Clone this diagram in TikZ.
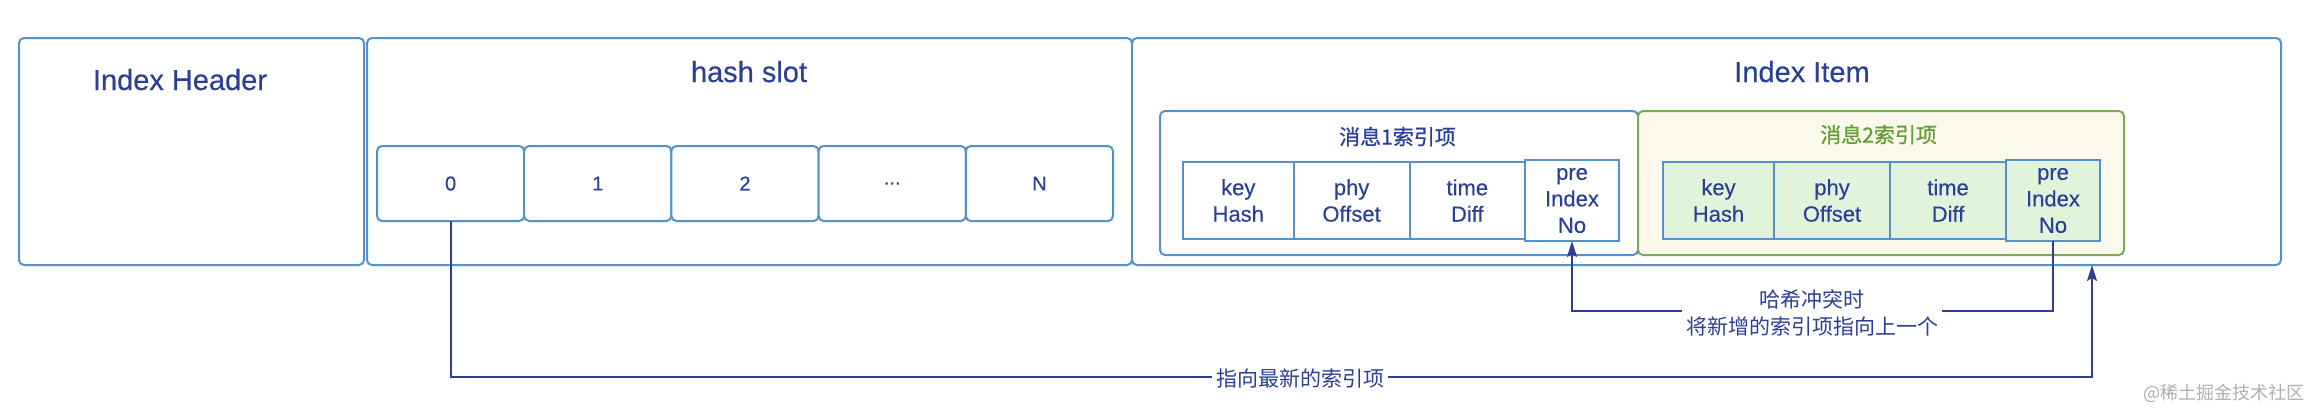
\documentclass[tikz,border=0pt]{standalone}
\usepackage{fontspec}
\setmainfont{Liberation Sans}[FakeBold=0.3]
\newfontfamily\cjk{Noto Sans CJK SC}
\newfontfamily\cjkmed{Noto Sans CJK SC}[FakeBold=0.8]
\usetikzlibrary{arrows.meta,calc}

\definecolor{boxblue}{RGB}{84,146,206}
\definecolor{txtblue}{RGB}{42,64,150}
\definecolor{linkblue}{RGB}{44,62,152}
\definecolor{grntxt}{RGB}{96,158,52}
\definecolor{grnline}{RGB}{122,172,88}
\definecolor{ylwfill}{RGB}{251,249,236}
\definecolor{grnfill}{RGB}{226,243,219}
\definecolor{wmgray}{RGB}{175,175,175}

\begin{document}
\begin{tikzpicture}[x=1pt,y=-1pt,
  box/.style={draw=boxblue, line width=2pt, rounded corners=5pt, inner sep=0pt, outer sep=0pt, fill=white},
  title/.style={text=txtblue, font=\fontsize{29}{34}\selectfont, anchor=base, inner sep=0pt},
  slotbox/.style={box, minimum width=147.2pt, minimum height=75pt, text=txtblue, font=\fontsize{20}{24}\selectfont},
  cellbox/.style={draw=boxblue, line width=2pt, inner sep=0pt, outer sep=0pt, align=center, text=txtblue, fill=white,
     font=\fontsize{22}{26.5}\selectfont, minimum height=77pt},
  precell/.style={cellbox, minimum width=94pt, minimum height=81pt},
  gcell/.style={fill=grnfill},
  cjklbl/.style={font=\cjk\fontsize{21}{27}\selectfont, inner sep=2pt, align=center},
  msglbl/.style={font=\cjkmed\fontsize{21}{27}\selectfont, inner sep=2pt},
  link/.style={draw=linkblue, line width=2pt, -{Stealth[length=16pt,width=10pt,inset=3pt]}},
  linklbl/.style={cjklbl, fill=white, text=txtblue, inner xsep=4pt, inner ysep=1pt},
]
\useasboundingbox (0,0) rectangle (2312,408);

% outer boxes
\node[box, minimum width=345pt, minimum height=227pt] (hdr) at (191.5,151.5) {};
\node[box, minimum width=765pt, minimum height=227pt] (slot) at (749.5,151.5) {};
\node[box, minimum width=1149pt, minimum height=227pt] (item) at (1706.5,151.5) {};

\node[title] (hdrT) at (180,90) {Index Header};
\node[title] (slotT) at (749,82) {hash slot};
\node[title] (itemT) at (1802,82) {Index Item};

% slots
\node[slotbox] (s0) at (450.6,183.5) {0};
\node[slotbox] (s1) at (597.8,183.5) {1};
\node[slotbox] (s2) at (745.0,183.5) {2};
\node[slotbox] (s3) at (892.2,183.5) {...};
\node[slotbox] (s4) at (1039.4,183.5) {N};

% message boxes
\node[box, minimum width=478pt, minimum height=144pt] (m1) at (1399,183) {};
\node[box, draw=grnline, fill=ylwfill, minimum width=486pt, minimum height=144pt] (m2) at (1881,183) {};
\node[msglbl, text=txtblue] (m1T) at (1397.5,136.5) {消息1索引项};
\node[msglbl, text=grntxt] (m2T) at (1878.6,134.5) {消息2索引项};

% cells msg1
\node[cellbox, minimum width=110.5pt] (k1) at (1238.25,200.5) {key\\Hash};
\node[cellbox, minimum width=116.1pt] (o1) at (1351.55,200.5) {phy\\Offset};
\node[cellbox, minimum width=115.4pt] (t1) at (1467.3,200.5) {time\\Diff};
\node[precell] (p1) at (1572,200.5) {pre\\Index\\No};

% cells msg2
\node[cellbox, gcell, minimum width=111pt] (k2) at (1718.5,200.5) {key\\Hash};
\node[cellbox, gcell, minimum width=116pt] (o2) at (1832,200.5) {phy\\Offset};
\node[cellbox, gcell, minimum width=116pt] (t2) at (1948,200.5) {time\\Diff};
\node[precell, gcell] (p2) at (2053,200.5) {pre\\Index\\No};

% connectors
\coordinate (c1) at (2092,377);
\draw[link] (s0.south) |- (c1) -- (item.south -| c1);
\node[linklbl] (l1) at (1300,378) {指向最新的索引项};

\draw[link] (p2.south) -- ++(0,70) -| (p1.south);
\node[linklbl] (l2) at (1812,312.5) {哈希冲突时\\将新增的索引项指向上一个};

% watermark
\node[font=\cjk\fontsize{18}{20}\selectfont, text=wmgray, inner sep=0pt] (wm) at (2224,393) {@稀土掘金技术社区};
\end{tikzpicture}
\end{document}
